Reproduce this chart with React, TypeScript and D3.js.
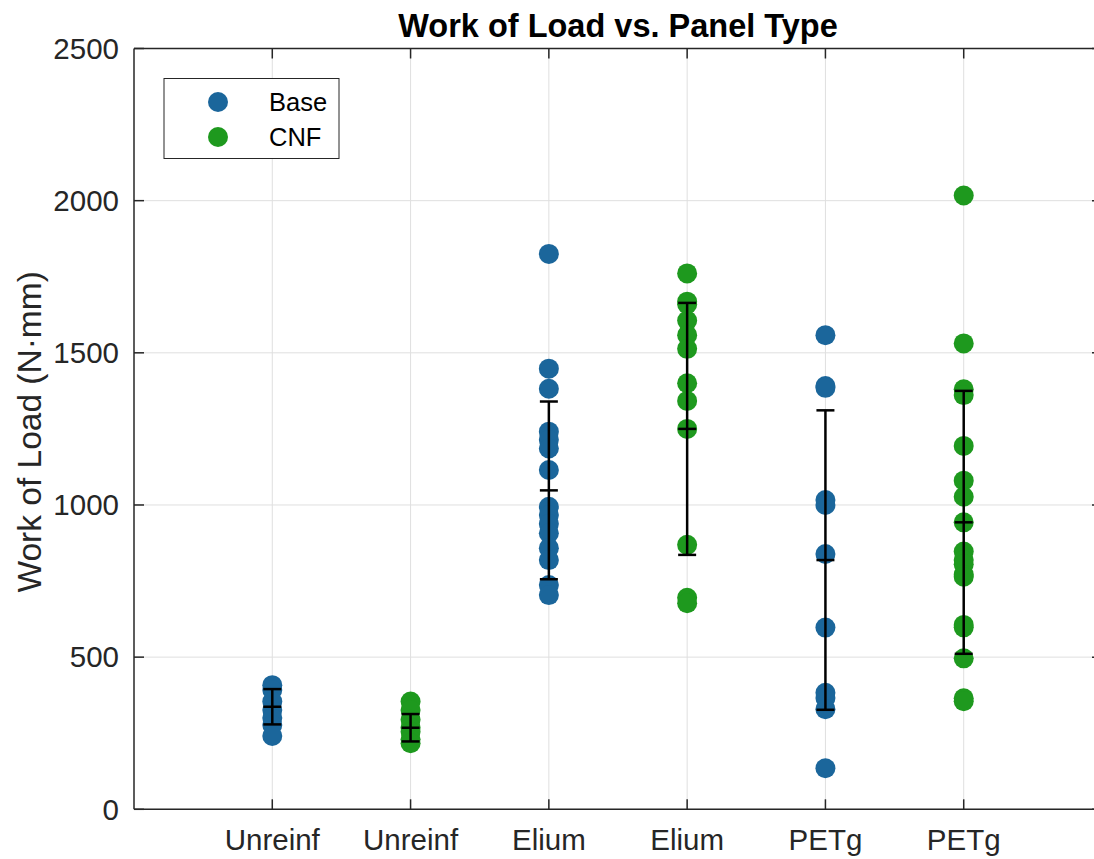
import React, { useEffect, useRef } from "react";
import * as d3 from "d3";

// Panel groups along the x axis (Base and CNF alternate)
const categories = ["Unreinf", "Unreinf", "Elium", "Elium", "PETg", "PETg"];
const groupSeries = ["Base", "CNF", "Base", "CNF", "Base", "CNF"];

// Individual specimen results, N·mm
const unreinfBase = [408, 392, 354, 326, 300, 277, 241];
const unreinfCnf = [354, 326, 294, 268, 255, 230, 217];
const eliumBase = [1825, 1448, 1382, 1241, 1214, 1186, 1115, 994, 967, 938, 907, 858, 819, 737, 704];
const eliumCnf = [1761, 1668, 1660, 1606, 1558, 1513, 1400, 1342, 1250, 869, 695, 677];
const petgBase = [1558, 1391, 1385, 1016, 1000, 839, 597, 383, 366, 329, 135];
const petgCnf = [2017, 1531, 1380, 1361, 1194, 1080, 1027, 943, 847, 819, 805, 771, 764, 606, 598, 496, 365, 355];

// Group means and standard deviations
const groupMeans = [337, 268, 1048, 1250, 819, 943];
const groupSd = [58, 45, 292, 414, 492, 432];

const yTicks = [0, 500, 1000, 1500, 2000, 2500];

const seriesColors: Record<string, string> = { Base: "#1b669b", CNF: "#1e991e" };

const W = 1094;
const H = 859;
const left = 134;
const right = 1102;
const top = 48.5;
const bottom = 809.3;
const FONT = "'Liberation Sans', Arial, Helvetica, sans-serif";
const AXIS = "#262626";

export default function App() {
  const ref = useRef<SVGSVGElement | null>(null);

  useEffect(() => {
    const svg = d3.select(ref.current);
    svg.selectAll("*").remove();

    const x = d3.scaleLinear().domain([0, 7]).range([left, right]);
    const y = d3.scaleLinear().domain([0, 2500]).range([bottom, top]);

    const groups = [unreinfBase, unreinfCnf, eliumBase, eliumCnf, petgBase, petgCnf];

    svg.append("rect").attr("width", W).attr("height", H).attr("fill", "#fff");

    // grid
    const grid = svg.append("g").attr("stroke", "#dfdfdf").attr("stroke-width", 1);
    yTicks.forEach((t) => {
      grid.append("line").attr("x1", left).attr("x2", right).attr("y1", y(t)).attr("y2", y(t));
    });
    categories.forEach((_, i) => {
      grid.append("line").attr("x1", x(i + 1)).attr("x2", x(i + 1)).attr("y1", top).attr("y2", bottom);
    });

    // points
    const pts = svg.append("g");
    groups.forEach((vals, i) => {
      const c = seriesColors[groupSeries[i]];
      vals.forEach((v) => {
        pts.append("circle").attr("cx", x(i + 1)).attr("cy", y(v)).attr("r", 10).attr("fill", c);
      });
    });

    // error bars: mean ± sd
    const eb = svg.append("g").attr("stroke", "#000").attr("stroke-width", 2.5);
    const cap = 9;
    groupMeans.forEach((m, i) => {
      const cx = x(i + 1);
      const lo = m - groupSd[i];
      const hi = m + groupSd[i];
      eb.append("line").attr("x1", cx).attr("x2", cx).attr("y1", y(lo)).attr("y2", y(hi));
      [lo, m, hi].forEach((v) => {
        eb.append("line").attr("x1", cx - cap).attr("x2", cx + cap).attr("y1", y(v)).attr("y2", y(v));
      });
    });

    // axes box and ticks
    const ax = svg.append("g").attr("stroke", AXIS).attr("stroke-width", 1.5).attr("fill", "none");
    ax.append("line").attr("x1", left).attr("x2", right).attr("y1", bottom).attr("y2", bottom);
    ax.append("line").attr("x1", left).attr("x2", right).attr("y1", top).attr("y2", top);
    ax.append("line").attr("x1", left).attr("x2", left).attr("y1", top).attr("y2", bottom);
    ax.append("line").attr("x1", right).attr("x2", right).attr("y1", top).attr("y2", bottom);
    const tl = 10;
    yTicks.forEach((t) => {
      ax.append("line").attr("x1", left).attr("x2", left + tl).attr("y1", y(t)).attr("y2", y(t));
      ax.append("line").attr("x1", right).attr("x2", right - tl).attr("y1", y(t)).attr("y2", y(t));
    });
    categories.forEach((_, i) => {
      ax.append("line").attr("x1", x(i + 1)).attr("x2", x(i + 1)).attr("y1", bottom).attr("y2", bottom - tl);
      ax.append("line").attr("x1", x(i + 1)).attr("x2", x(i + 1)).attr("y1", top).attr("y2", top + tl);
    });

    // tick labels
    const txt = svg.append("g").attr("font-family", FONT).attr("fill", AXIS);
    yTicks.forEach((t) => {
      txt.append("text").attr("x", 119).attr("y", y(t)).attr("dy", "0.35em")
        .attr("text-anchor", "end").attr("font-size", 29.5).text(String(t));
    });
    categories.forEach((c, i) => {
      txt.append("text").attr("x", x(i + 1)).attr("y", 850)
        .attr("text-anchor", "middle").attr("font-size", 29.5).text(c);
    });

    // y label
    txt.append("text")
      .attr("transform", `translate(41, ${(top + bottom) / 2 + 3}) rotate(-90)`)
      .attr("text-anchor", "middle").attr("font-size", 33.5)
      .text("Work of Load (N\u00b7mm)");

    // title
    svg.append("text").attr("x", (left + right) / 2).attr("y", 37)
      .attr("text-anchor", "middle").attr("font-family", FONT)
      .attr("font-weight", "bold").attr("font-size", 32.5).attr("fill", "#000")
      .text("Work of Load vs. Panel Type");

    // legend
    const lg = svg.append("g");
    lg.append("rect").attr("x", 164).attr("y", 78.5).attr("width", 175).attr("height", 80)
      .attr("fill", "#fff").attr("stroke", AXIS).attr("stroke-width", 1);
    ["Base", "CNF"].forEach((s, i) => {
      const cy = 102 + i * 35;
      lg.append("circle").attr("cx", 218).attr("cy", cy).attr("r", 10).attr("fill", seriesColors[s]);
      lg.append("text").attr("x", 269).attr("y", cy).attr("dy", "0.36em")
        .attr("font-family", FONT).attr("font-size", 25.5).attr("fill", "#000").text(s);
    });
  }, []);

  return (
    <svg
      ref={ref}
      width={W}
      height={H}
      style={{ position: "absolute", left: 0, top: 0, display: "block" }}
    />
  );
}
